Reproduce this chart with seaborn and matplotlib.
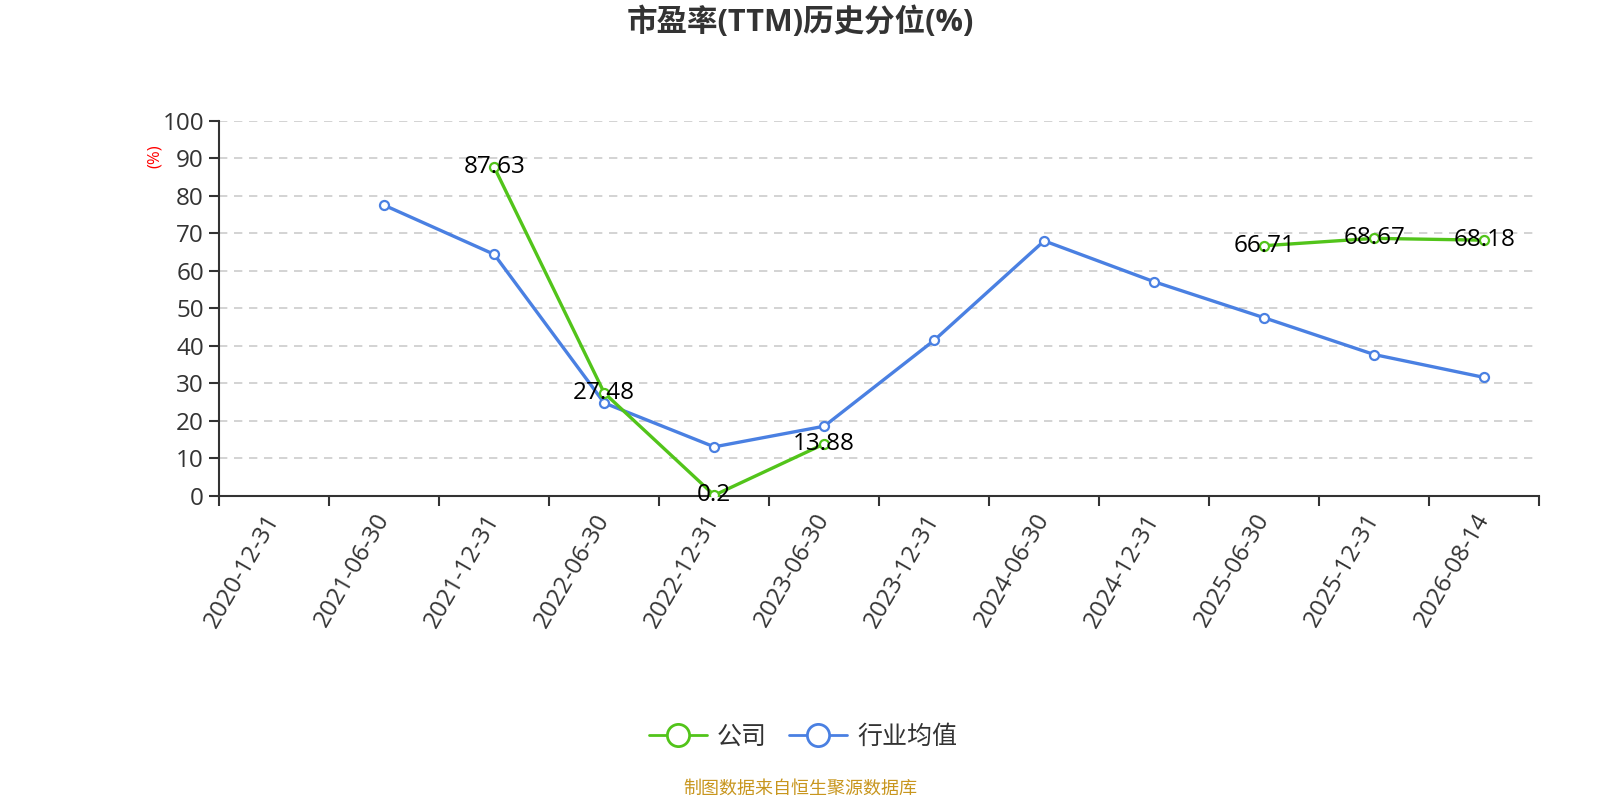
import numpy as np
import pandas as pd
import matplotlib
matplotlib.use("Agg")
import matplotlib.pyplot as plt
from matplotlib.lines import Line2D
import seaborn as sns

# 数据
dates = ["2020-12-31", "2021-06-30", "2021-12-31", "2022-06-30", "2022-12-31", "2023-06-30",
         "2023-12-31", "2024-06-30", "2024-12-31", "2025-06-30", "2025-12-31", "2026-08-14"]
company = [np.nan, np.nan, 87.63, 27.48, 0.2, 13.88, np.nan, np.nan, np.nan, 66.71, 68.67, 68.18]
industry = [np.nan, 77.5, 64.4, 24.8, 13.1, 18.6, 41.5, 68.0, 57.1, 47.5, 37.7, 31.6]

green = "#52c41a"
blue = "#4a80e2"

sns.set_theme(style="white")
plt.rcParams['font.family'] = ['Open Sans', 'Noto Sans CJK SC', 'DejaVu Sans']


def to_frame(vals):
    # 断开的地方用不同的 seg 编号, 这样线不会连过去
    rows = []
    seg = 0
    prev_nan = True
    for i, v in enumerate(vals):
        if np.isnan(v):
            prev_nan = True
            continue
        if prev_nan:
            seg += 1
            prev_nan = False
        rows.append({"x": i, "y": v, "seg": seg})
    return pd.DataFrame(rows)


fig = plt.figure(figsize=(16, 8), dpi=100)
ax = fig.add_axes([0.137, 0.38, 0.825, 0.469])

df_c = to_frame(company)
df_i = to_frame(industry)

sns.lineplot(data=df_i, x="x", y="y", units="seg", estimator=None, color=blue, lw=2.4,
             marker="o", markersize=6.5, markerfacecolor="white", markeredgecolor=blue,
             markeredgewidth=1.6, ax=ax, zorder=3)
sns.lineplot(data=df_c, x="x", y="y", units="seg", estimator=None, color=green, lw=2.4,
             marker="o", markersize=6.5, markerfacecolor="white", markeredgecolor=green,
             markeredgewidth=1.6, ax=ax, zorder=4)

# 数值标签
for i, v in enumerate(company):
    if not np.isnan(v):
        ax.text(i, v, f"{v:g}", ha="center", va="center", fontsize=17.5, color="black", zorder=5)

ax.set_xlim(-0.5, len(dates) - 0.5)
ax.set_ylim(0, 100)
ax.set_yticks(range(0, 101, 10))
ax.yaxis.grid(True, linestyle=(0, (5, 4)), color="#cccccc", lw=1.2)
ax.xaxis.grid(False)

ax.set_xticks(np.arange(-0.5, len(dates), 1))
ax.set_xticklabels([])
ax.set_xticks(range(len(dates)), minor=True)
ax.set_xticklabels(dates, minor=True, rotation=60, ha="right", va="center",
                   rotation_mode="anchor", fontsize=17.5, color="#333333")
ax.tick_params(axis="x", which="major", direction="out", length=7, width=1.5, color="#333333", bottom=True)
ax.tick_params(axis="x", which="minor", length=0, pad=14)
ax.tick_params(axis="y", direction="out", length=7, width=1.5, color="#333333", left=True,
               labelsize=17.5, labelcolor="#333333", pad=4)

for s in ["top", "right"]:
    ax.spines[s].set_visible(False)
for s in ["left", "bottom"]:
    ax.spines[s].set_color("#333333")
    ax.spines[s].set_linewidth(1.5)

ax.set_xlabel("")
ax.set_ylabel("")
fig.text(0.097, 0.805, "(%)", color="red", fontsize=12, rotation=90, ha="center", va="center")

fig.text(0.5, 0.972, "市盈率(TTM)历史分位(%)", ha="center", va="center", fontsize=22,
         fontweight="bold", color="#333333")

handles = [
    Line2D([], [], color=green, lw=2, marker="o", markersize=16, markerfacecolor="white",
           markeredgecolor=green, markeredgewidth=2),
    Line2D([], [], color=blue, lw=2, marker="o", markersize=16, markerfacecolor="white",
           markeredgecolor=blue, markeredgewidth=2),
]
if ax.get_legend() is not None:
    ax.get_legend().remove()
fig.legend(handles, ["公司", "行业均值"], loc="center", bbox_to_anchor=(0.502, 0.078), ncol=2,
           frameon=False, fontsize=18, handlelength=2.3, columnspacing=0.9, handletextpad=0.4,
           labelcolor="#333333")

fig.text(0.5, 0.014, "制图数据来自恒生聚源数据库", ha="center", va="center", fontsize=13,
         color="#c8961e")

fig.savefig("out.png", dpi=100)
